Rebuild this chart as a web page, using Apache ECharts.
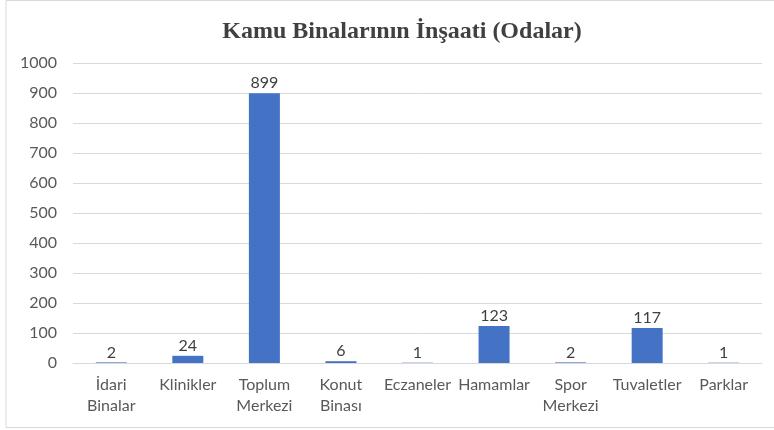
<!DOCTYPE html>
<html><head><meta charset="utf-8">
<script src="https://cdn.jsdelivr.net/npm/echarts@6/dist/echarts.min.js"></script>
<style>html,body{margin:0;padding:0;background:#fff}#c{width:774px;height:430px}</style>
</head><body><div id="c"></div>
<script>
const categories = ['İdari\nBinalar', 'Klinikler', 'Toplum\nMerkezi', 'Konut\nBinası', 'Eczaneler', 'Hamamlar', 'Spor\nMerkezi', 'Tuvaletler', 'Parklar'];
const values = [2, 24, 899, 6, 1, 123, 2, 117, 1];
const titleText = 'Kamu Binalarının İnşaati (Odalar)';

const chart = echarts.init(document.getElementById('c'));
chart.setOption({
  animation: false,
  graphic: [{
    type: 'rect', shape: { x: 6, y: 0.5, width: 800, height: 427 },
    style: { fill: 'none', stroke: '#d9d9d9', lineWidth: 1 }, silent: true
  }],
  title: {
    text: titleText, left: 397, textAlign: 'center', top: 15,
    textStyle: { fontFamily: 'Liberation Serif', fontWeight: 'bold', fontSize: 24, color: '#404040' }
  },
  grid: { left: 73, right: 12, top: 63, bottom: 67 },
  xAxis: {
    type: 'category', data: categories,
    axisLine: { lineStyle: { color: '#d9d9d9' } },
    axisTick: { show: false },
    axisLabel: { interval: 0, color: '#595959', fontSize: 16, fontFamily: 'Lato', margin: 11, lineHeight: 21 }
  },
  yAxis: {
    type: 'value', min: 0, max: 1000, interval: 100,
    axisLine: { show: false }, axisTick: { show: false },
    splitLine: { lineStyle: { color: '#d9d9d9' } },
    axisLabel: { color: '#595959', fontSize: 16, fontFamily: 'Lato', margin: 16, formatter: v => String(v) }
  },
  series: [{
    type: 'bar', data: values, barWidth: 31,
    itemStyle: { color: '#4472C4' },
    label: { show: true, position: 'top', color: '#404040', fontSize: 16, fontFamily: 'Lato', distance: 2 }
  }]
});
</script></body></html>
